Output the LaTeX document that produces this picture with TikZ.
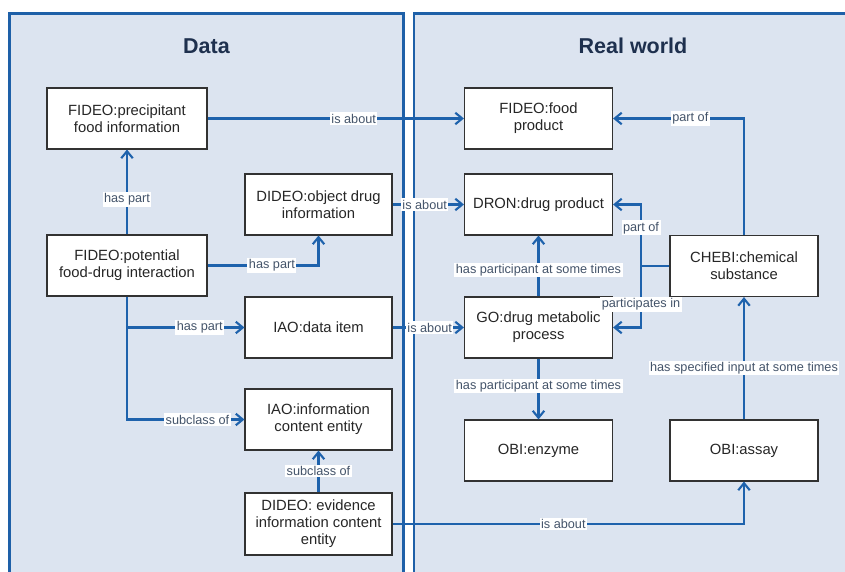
\documentclass[tikz,border=0pt]{standalone}
\usepackage{fontspec}
\setmainfont{Liberation Sans}
\usetikzlibrary{arrows.meta}
\definecolor{panelfill}{RGB}{220,228,240}
\definecolor{panelline}{RGB}{30,96,168}
\definecolor{connc}{RGB}{30,98,172}
\definecolor{lbltext}{RGB}{68,84,106}
\definecolor{titletext}{RGB}{30,48,78}
\definecolor{boxline}{RGB}{50,50,50}
\begin{document}
\begin{tikzpicture}[x=1pt,y=-1pt,
  box/.style={draw=boxline, line width=1.1pt, fill=white, align=center, inner sep=2pt,
              font=\fontsize{14.8}{17}\selectfont, text=black!85},
  lw/.style={box, minimum width=160pt, minimum height=61pt},
  mw/.style={box, minimum width=147pt, minimum height=61pt},
  rw/.style={box, minimum width=148pt, minimum height=61pt},
  conn/.style={draw=connc, line width=2.1pt, -{Straight Barb[length=7pt,width=11.5pt]}},
  plain/.style={draw=connc, line width=2.1pt},
  lbl/.style={fill=white, text=lbltext, inner sep=1.5pt, font=\fontsize{12.7}{14}\selectfont},
  paneltitle/.style={font=\fontsize{21.5}{24}\selectfont\bfseries, text=titletext},
  panel/.style={draw=panelline, line width=2.2pt, fill=panelfill}
]
\clip (0,0) rectangle (845,572);
\fill[white] (0,0) rectangle (845,572);
% panels
\draw[panel] (9.5,13.5) rectangle (403.5,620);
\draw[panel] (414,13.5) rectangle (852,620);
\node[paneltitle] (tdata) at (206.5,46) {Data};
\node[paneltitle] (treal) at (633,46) {Real world};

% Data nodes
\node[lw] (precip) at (127,118.5) {FIDEO:precipitant\\food information};
\node[lw] (pot) at (127,265.5) {FIDEO:potential\\food-drug interaction};
\node[mw] (dobj) at (318.5,204.5) {DIDEO:object drug\\information};
\node[mw] (data) at (318.5,327.5) {IAO:data item};
\node[mw] (ice) at (318.5,419.5) {IAO:information\\content entity};
\node[mw, minimum height=62pt] (evid) at (318.5,524) {DIDEO: evidence\\information content\\entity};

% Real world nodes
\node[rw] (food) at (538.5,118.5) {FIDEO:food\\product};
\node[rw] (dron) at (538.5,204.5) {DRON:drug product};
\node[rw] (go) at (538.5,327.5) {GO:drug metabolic\\process};
\node[rw] (enz) at (538.5,450.5) {OBI:enzyme};
\node[rw] (chebi) at (744,266) {CHEBI:chemical\\substance};
\node[rw] (assay) at (744,450.5) {OBI:assay};

\coordinate (jn) at (641,266);

% connectors
\draw[conn] (precip.east) -- node[lbl,pos=0.57]{is about} (food.west);
\draw[conn] (pot.north) -- node[lbl,pos=0.41]{has part} (precip.south);
\draw[conn] (pot.east) -- node[lbl,pos=0.58]{has part} (pot.east -| dobj.south) -- (dobj.south);
\draw[conn] (dobj.east) -- node[lbl,pos=0.45]{is about} (dron.west);
\draw[conn] (pot.south) -- (pot.south |- data.west) -- node[lbl,pos=0.62]{has part} (data.west);
\draw[conn] (pot.south) -- (pot.south |- ice.west) -- node[lbl,pos=0.6]{subclass of} (ice.west);
\draw[conn] (evid.north) -- node[lbl,pos=0.51]{subclass of} (ice.south);
\draw[conn] (data.east) -- node[lbl,pos=0.52]{is about} (go.west);
\draw[conn] (evid.east) -- node[lbl,pos=0.486]{is about} (evid.east -| assay.south) -- (assay.south);
\draw[conn] (go.north) -- node[lbl,pos=0.435]{has participant at some times} (dron.south);
\draw[conn] (go.south) -- node[lbl,pos=0.45]{has participant at some times} (enz.north);
\draw[conn] (chebi.north) -- (chebi.north |- food.east) -- node[lbl,pos=0.41]{part of} (food.east);
\draw[plain] (chebi.west) -- (jn);
\draw[conn] (jn) -- node[lbl,pos=0.62]{part of} (jn |- dron.east) -- (dron.east);
\draw[conn] (jn) -- node[lbl,pos=0.62]{participates in} (jn |- go.east) -- (go.east);
\draw[conn] (assay.north) -- node[lbl,pos=0.42]{has specified input at some times} (chebi.south);
\end{tikzpicture}
\end{document}
